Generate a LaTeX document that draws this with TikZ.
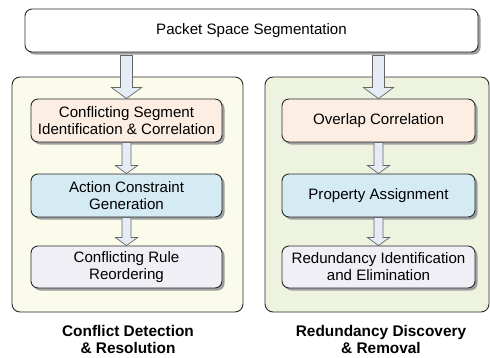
\documentclass[tikz,border=0pt]{standalone}
\usepackage{fontspec}
\setmainfont{Liberation Sans}
\usetikzlibrary{calc,shadows}
\definecolor{contL}{HTML}{FAFBEB}
\definecolor{contR}{HTML}{EEF3DF}
\definecolor{peach}{HTML}{FCEEE3}
\definecolor{lblue}{HTML}{D4EBF3}
\definecolor{lav}{HTML}{F0EFF5}
\definecolor{arrfill}{HTML}{E6ECF5}
\definecolor{edge}{HTML}{2A2A2A}
\tikzset{
  stage/.style={draw=edge, line width=0.9pt, rounded corners=7pt, align=center,
    font=\fontsize{15.1}{17}\selectfont, inner sep=0pt,
    drop shadow={shadow xshift=2.5pt, shadow yshift=-2.5pt, fill=black!38, opacity=1}},
  container/.style={draw=edge, line width=0.9pt, rounded corners=8pt, inner sep=0pt},
  grouplabel/.style={align=center, font=\fontsize{15.4}{17}\selectfont\bfseries},
  blockarr/.style={draw=black!60, line width=0.7pt, fill=arrfill},
}
\newcommand\blockarrow[5]{%
  \draw[blockarr] let \p1=(#1), \p2=(#2) in
    (\x2-#3,\y1) -- (\x2-#3,\y2+#5) -- (\x2-#4,\y2+#5) -- (\x2,\y2)
    -- (\x2+#4,\y2+#5) -- (\x2+#3,\y2+#5) -- (\x2+#3,\y1) -- cycle;}
\begin{document}
\begin{tikzpicture}[x=1pt,y=-1pt]
\useasboundingbox (0,0) rectangle (490,357);
% containers
\node[container, fill=contL, minimum width=231pt, minimum height=235pt] (cl) at (127.5,194.5) {};
\node[container, fill=contR, minimum width=224pt, minimum height=235pt] (cr) at (377,194.5) {};
% top
\node[stage, fill=white, minimum width=453pt, minimum height=43pt] (top) at (251.5,30.5) {Packet Space Segmentation};
% left column
\node[stage, fill=peach, minimum width=191pt, minimum height=43pt] (l1) at (126.5,120.5) {Conflicting Segment\\Identification \& Correlation};
\node[stage, fill=lblue, minimum width=191pt, minimum height=43pt] (l2) at (126.5,195.5) {Action Constraint\\Generation};
\node[stage, fill=lav, minimum width=191pt, minimum height=42pt] (l3) at (126.5,267) {Conflicting Rule\\Reordering};
% right column
\node[stage, fill=peach, minimum width=193pt, minimum height=43pt] (r1) at (378.5,120.5) {Overlap Correlation};
\node[stage, fill=lblue, minimum width=193pt, minimum height=43pt] (r2) at (378.5,195.5) {Property Assignment};
\node[stage, fill=lav, minimum width=193pt, minimum height=42pt] (r3) at (378.5,267) {Redundancy Identification\\and Elimination};
% labels
\node[grouplabel] (gl) at (128,339) {Conflict Detection\\\& Resolution};
\node[grouplabel] (gr) at (381,339) {Redundancy Discovery\\\& Removal};
% arrows
\coordinate (tl) at ($(top.south -| l1.north)+(0,3)$);
\coordinate (tr) at ($(top.south -| r1.north)+(0,3)$);
\blockarrow{tl}{l1.north}{6pt}{15pt}{11pt}
\blockarrow{tr}{r1.north}{6pt}{15pt}{11pt}
\blockarrow{l1.south}{l2.north}{4.5pt}{11pt}{8pt}
\blockarrow{l2.south}{l3.north}{4.5pt}{11pt}{8pt}
\blockarrow{r1.south}{r2.north}{4.5pt}{11pt}{8pt}
\blockarrow{r2.south}{r3.north}{4.5pt}{11pt}{8pt}
\end{tikzpicture}
\end{document}
